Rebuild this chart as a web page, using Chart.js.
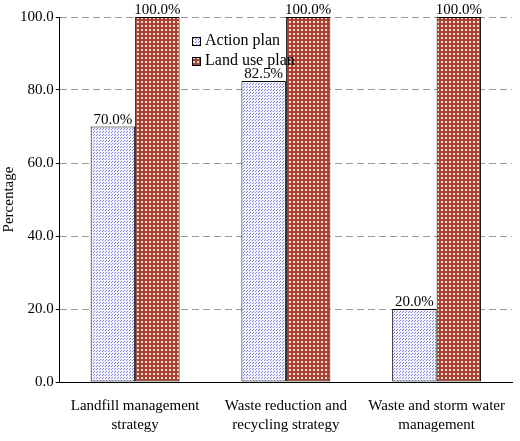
<!DOCTYPE html>
<html><head><meta charset="utf-8">
<script src="https://cdn.jsdelivr.net/npm/chart.js@4"></script>
<style>html,body{margin:0;padding:0;background:#fff}#w{width:520px;height:441px}</style>
</head><body><div id="w"><canvas id="c"></canvas></div>
<script>
const categories=[["Landfill management","strategy"],["Waste reduction and","recycling strategy"],["Waste and storm water","management"]];
const actionPlan=[70.0,82.5,20.0];
const landUsePlan=[100.0,100.0,100.0];
const seriesNames=["Action plan","Land use plan"];
const FONT="'Liberation Serif', 'Times New Roman', serif";

function bluePat(){const c=document.createElement('canvas');c.width=3;c.height=3;const x=c.getContext('2d');
x.fillStyle='#f4f4ff';x.fillRect(0,0,3,3);x.fillStyle='#7f7fe8';x.fillRect(0,0,1,1);x.fillRect(1,2,1,1);return x.createPattern(c,'repeat');}
function redPat(){const c=document.createElement('canvas');c.width=4;c.height=4;const x=c.getContext('2d');
x.fillStyle='#a8412f';x.fillRect(0,0,4,4);x.fillStyle='#f3ddd8';x.fillRect(1,1,2,2);return x.createPattern(c,'repeat');}
const bp=bluePat(),rp=redPat();

const labelsPlugin={id:'lbl',afterDatasetsDraw(ch){const ctx=ch.ctx;ctx.save();ctx.font="15px "+FONT;ctx.fillStyle='#000';ctx.textAlign='center';ctx.textBaseline='bottom';
ch.data.datasets.forEach((d,i)=>{ch.getDatasetMeta(i).data.forEach((el,j)=>{ctx.fillText(d.data[j].toFixed(1)+'%',el.x,el.y+1);});});
const lx=192,ly=41;ctx.textAlign='left';ctx.textBaseline='middle';ctx.font="16px "+FONT;
[[bp,0],[rp,1]].forEach(([p,k])=>{const y=ly+k*20;ctx.fillStyle=p;ctx.fillRect(lx,y-4,8,8);ctx.strokeStyle='#000';ctx.lineWidth=1;ctx.strokeRect(lx+0.5,y-4+0.5,8,8);ctx.fillStyle='#000';ctx.fillText(seriesNames[k],lx+13,y);});
ctx.restore();}};

new Chart(document.getElementById('c'),{type:'bar',
data:{labels:categories,datasets:[
{label:seriesNames[0],data:actionPlan,backgroundColor:bp,borderColor:'#000',borderWidth:1,borderSkipped:false},
{label:seriesNames[1],data:landUsePlan,backgroundColor:rp,borderColor:'#000',borderWidth:1,borderSkipped:false}]},
options:{responsive:true,maintainAspectRatio:false,animation:false,devicePixelRatio:1,
layout:{padding:{top:17,right:8,left:0,bottom:0}},
datasets:{bar:{categoryPercentage:0.59,barPercentage:1}},
plugins:{legend:{display:false},tooltip:{enabled:false}},
scales:{
x:{grid:{display:false},border:{color:'#000'},ticks:{color:'#000',font:{family:FONT,size:15,lineHeight:1.3},maxRotation:0,padding:6}},
y:{min:0,max:100,ticks:{stepSize:20,color:'#000',font:{family:FONT,size:15},padding:2,callback:v=>v.toFixed(1)},
grid:{color:'#999',drawTicks:true,tickLength:4,tickColor:'#000'},border:{color:'#000',dash:[7,4],dashOffset:0},
title:{display:true,text:'Percentage',color:'#000',font:{family:FONT,size:15},padding:0}}}},
plugins:[labelsPlugin]});
</script></body></html>
